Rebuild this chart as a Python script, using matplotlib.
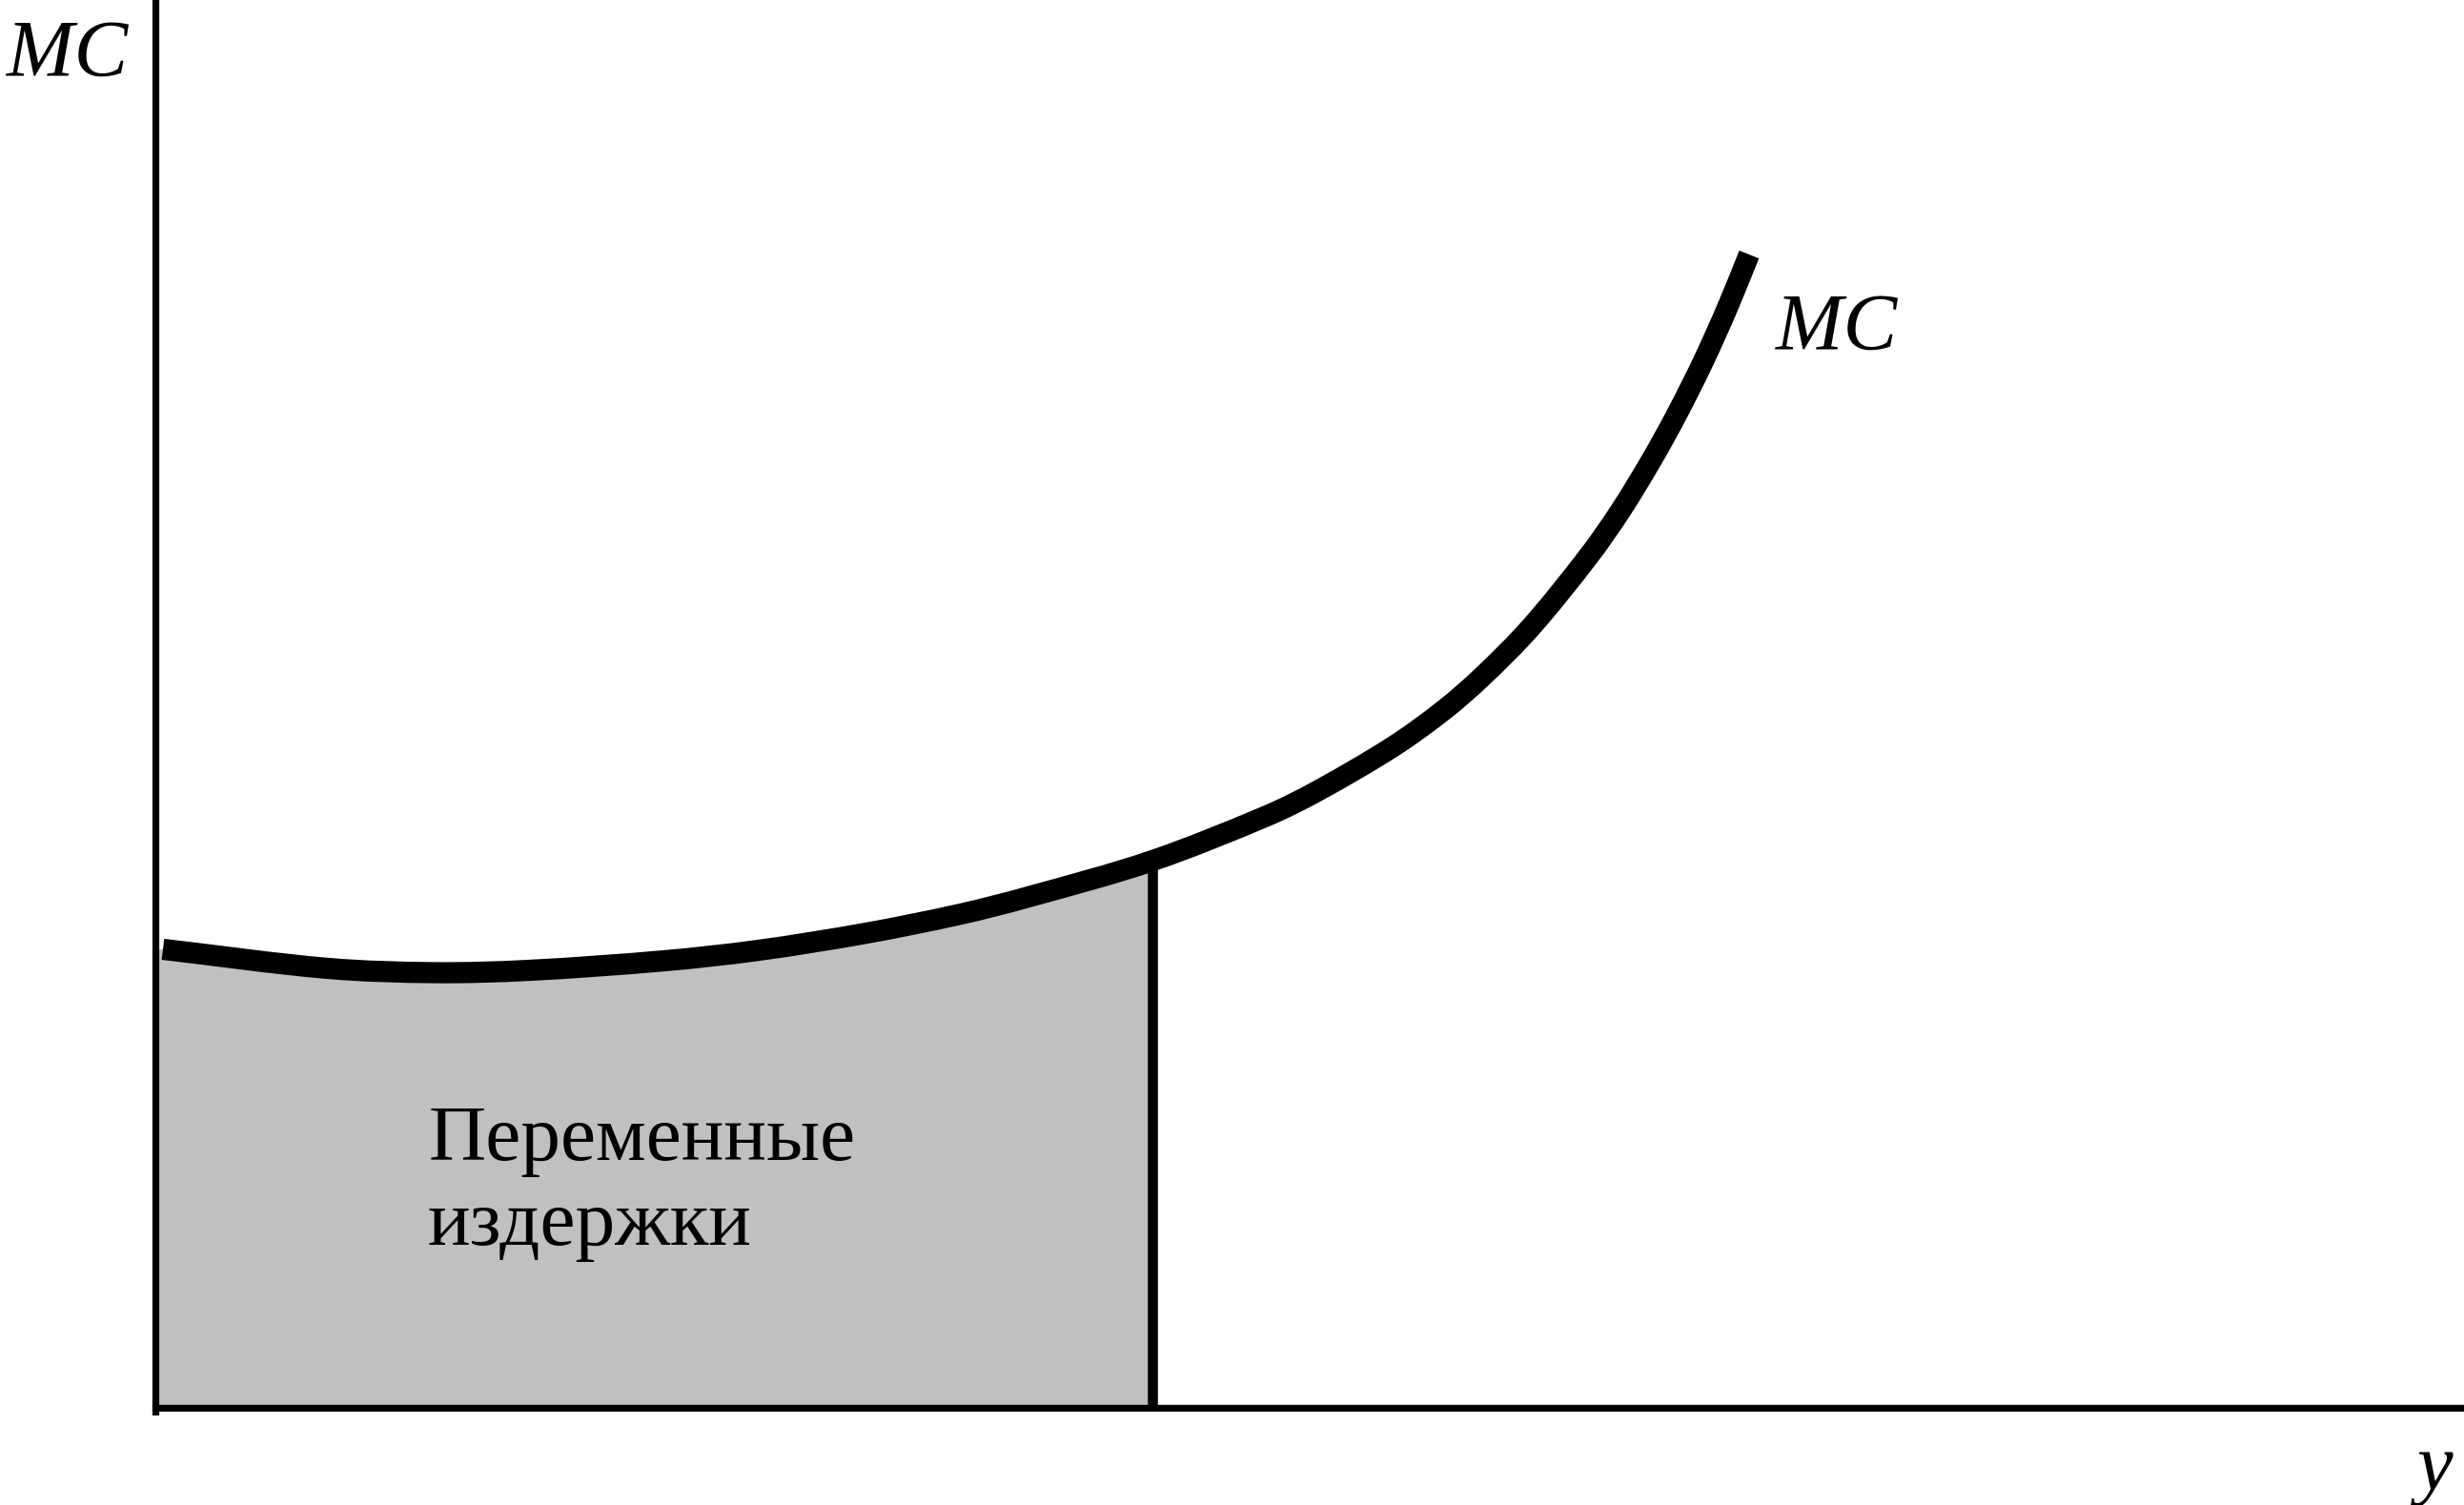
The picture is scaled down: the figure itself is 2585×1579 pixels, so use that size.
import matplotlib
matplotlib.use("Agg")
import matplotlib.pyplot as plt
import numpy as np
from matplotlib.path import Path
from matplotlib.patches import PathPatch

# marginal cost curve (quantity, MC)
quantity = [0.08, 1.81, 2.94, 3.93, 5.34, 6.33, 7.46, 8.45, 9.16, 10.46, 11.66,
            12.19, 12.99, 13.53, 13.93, 14.44, 15.04, 15.37, 15.70, 15.97, 16.24,
            16.50, 16.72]
mc = [4.81, 4.61, 4.565, 4.59, 4.69, 4.80, 4.98, 5.18, 5.36, 5.74, 6.21,
      6.47, 6.94, 7.33, 7.68, 8.20, 8.94, 9.41, 9.95, 10.44, 10.98,
      11.56, 12.10]
q_output = 10.46  # output level that bounds the shaded area

label_area = ["Переменные", "издержки"]
label_curve = "MC"
label_yaxis = "MC"
label_xaxis = "y"


def smooth_path(xs, ys):
    # cubic Hermite through the read points, drawn as Bezier segments
    xs = np.asarray(xs, float)
    ys = np.asarray(ys, float)
    n = len(xs)
    m = np.empty(n)
    m[0] = (ys[1] - ys[0]) / (xs[1] - xs[0])
    m[-1] = (ys[-1] - ys[-2]) / (xs[-1] - xs[-2])
    for i in range(1, n - 1):
        m[i] = (ys[i + 1] - ys[i - 1]) / (xs[i + 1] - xs[i - 1])
    verts = [(xs[0], ys[0])]
    codes = [Path.MOVETO]
    for i in range(n - 1):
        h = (xs[i + 1] - xs[i]) / 3
        verts += [(xs[i] + h, ys[i] + m[i] * h),
                  (xs[i + 1] - h, ys[i + 1] - m[i + 1] * h),
                  (xs[i + 1], ys[i + 1])]
        codes += [Path.CURVE4] * 3
    return verts, codes


q = np.array(quantity)
c = np.array(mc)

fig = plt.figure(figsize=(25.85, 15.79), dpi=100)
ax = fig.add_axes([0, 0, 1, 1])
ax.set_xlim(-1.63, 24.22)
ax.set_ylim(-1.02, 14.77)

# shaded variable-cost area under MC up to q_output
mask = q <= q_output + 1e-9
fv, fc = smooth_path(q[mask], c[mask])
fv = [(0.0, 0.0), (0.0, c[0])] + fv + [(q_output, 0.0), (0.0, 0.0)]
fc = [Path.MOVETO, Path.LINETO, Path.LINETO] + fc[1:] + [Path.LINETO, Path.CLOSEPOLY]
ax.add_patch(PathPatch(Path(fv, fc), facecolor="#c0c0c0", edgecolor="none", zorder=1))

ax.plot([q_output, q_output], [0, c[mask][-1]], color="black",
        linewidth=7.6, solid_capstyle="butt", zorder=2)

cv, cc = smooth_path(q, c)
ax.add_patch(PathPatch(Path(cv, cc), facecolor="none", edgecolor="black",
                       linewidth=16, capstyle="butt", joinstyle="round", zorder=3))

# axes lines
for side in ["top", "right"]:
    ax.spines[side].set_visible(False)
ax.spines["left"].set_position(("data", 0))
ax.spines["bottom"].set_position(("data", 0))
ax.spines["left"].set_bounds(-0.035, 14.77)
ax.spines["bottom"].set_bounds(0, 24.22)
for side in ["left", "bottom"]:
    ax.spines[side].set_linewidth(5.2)
    ax.spines[side].set_color("black")
ax.set_xticks([])
ax.set_yticks([])
ax.patch.set_alpha(0)

serif = "Liberation Serif"
ax.text(-1.56, 13.97, label_yaxis, fontsize=61, fontstyle="italic", family=serif,
        ha="left", va="baseline")
ax.text(17.0, 11.10, label_curve, fontsize=61, fontstyle="italic", family=serif,
        ha="left", va="baseline")
ax.text(23.72, -0.86, label_xaxis, fontsize=61, fontstyle="italic", family=serif,
        ha="left", va="baseline")
ax.text(2.87, 2.60, label_area[0], fontsize=60, family=serif, ha="left", va="baseline")
ax.text(2.85, 1.71, label_area[1], fontsize=60, family=serif, ha="left", va="baseline")

fig.savefig("out.png", dpi=100, facecolor="white")
